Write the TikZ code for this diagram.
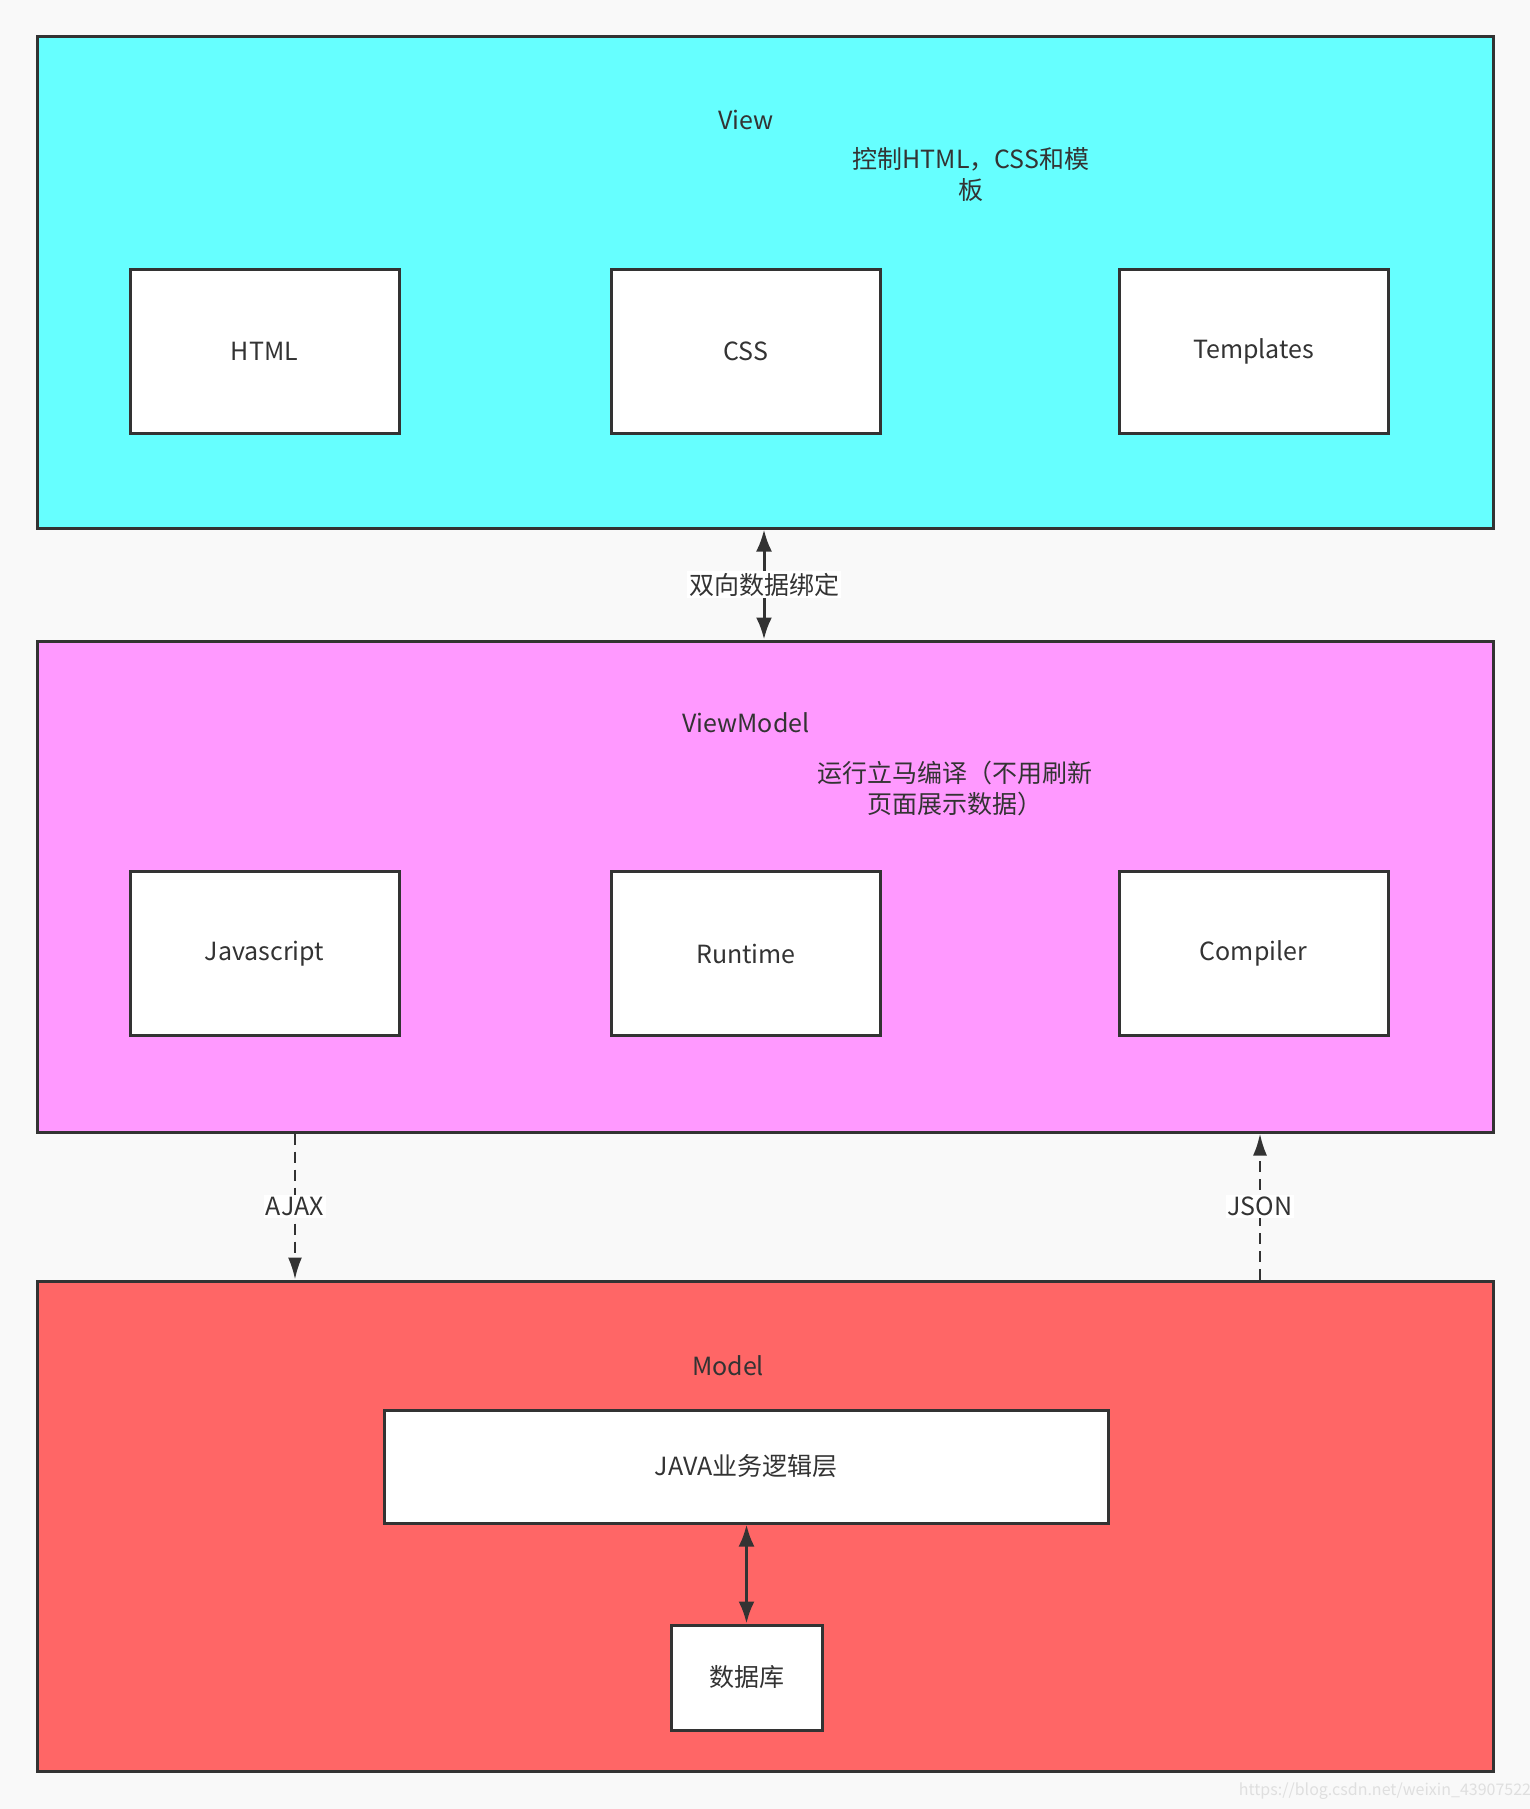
\documentclass[tikz,border=0pt]{standalone}
\usepackage{fontspec}
\setmainfont{Noto Sans CJK SC}
\usepackage{xcolor}
\usetikzlibrary{arrows.meta,positioning,calc}
\definecolor{bgcol}{HTML}{F9F9F9}
\definecolor{linecol}{HTML}{333333}
\definecolor{viewcol}{HTML}{66FFFF}
\definecolor{vmcol}{HTML}{FF99FF}
\definecolor{modelcol}{HTML}{FF6666}

\begin{document}
\begin{tikzpicture}[
			x=1pt, y=-1pt,
			font=\fontsize{25}{31}\selectfont,
			layer/.style={rectangle, draw=linecol, line width=3pt, minimum width=1456pt, minimum height=491pt, inner sep=0pt},
			box/.style={rectangle, draw=linecol, fill=white, line width=3pt, minimum width=269pt, minimum height=164pt, inner sep=0pt, text=linecol},
			title/.style={text=linecol, inner sep=0pt},
			note/.style={text=linecol, align=center, inner sep=0pt},
			lbl/.style={fill=white, text=linecol, inner sep=2pt},
			arrow/.style={{Latex[length=22pt,width=16pt]}-{Latex[length=22pt,width=16pt]}, draw=linecol, line width=3pt},
			dasharrow/.style={-{Latex[length=22pt,width=14pt]}, draw=linecol, line width=2.5pt, dash pattern=on 11pt off 7pt}
			]
			
			% Background
			\fill[bgcol] (0,0) rectangle (1530,1809);
			\useasboundingbox (0,0) rectangle (1530,1809);
			
			% Layers
			\node[layer, fill=viewcol] (view) at (765,282.5) {};
			\node[layer, fill=vmcol] (vm) at (765,886.5) {};
			\node[layer, fill=modelcol, minimum height=490pt] (model) at (765,1526) {};
			
			% View layer
			\node[title] (viewtitle) at (746,120) {View};
			\node[note] (viewnote) at (971,175) {控制HTML，CSS和模\\板};
			\node[box] (html) at (264.5,351) {HTML};
			\node[box] (css) at (746,351) {CSS};
			\node[box] (tpl) at (1253.5,351) {Templates};
			
			% ViewModel layer
			\node[title] (vmtitle) at (746,723) {ViewModel};
			\node[note] (vmnote) at (955,788) {运行立马编译（不用刷新\\页面展示数据）};
			\node[box] (js) at (264.5,953.5) {Javascript};
			\node[box] (runtime) at (746,953.5) {Runtime};
			\node[box] (compiler) at (1253.5,953.5) {Compiler};
			
			% Model layer
			\node[title] (modeltitle) at (728,1366) {Model};
			\node[box, minimum width=724pt, minimum height=113pt] (java) at (746,1466.5) {JAVA业务逻辑层};
			\node[box, minimum width=151pt, minimum height=105pt] (db) at (746.5,1677.5) {数据库};
			
			% Connections
			\coordinate (bind) at (764,0);
			\coordinate (ajax) at (295,0);
			\coordinate (json) at (1260,0);
			\draw[arrow] (view.south -| bind) -- node[lbl] {双向数据绑定} (vm.north -| bind);
			\draw[dasharrow] (vm.south -| ajax) -- node[lbl] {AJAX} (model.north -| ajax);
			\draw[dasharrow] (model.north -| json) -- node[lbl] {JSON} (vm.south -| json);
			\draw[arrow] (java.south -| db) -- (db.north);
			
			% Watermark
			\node[text=gray!25, font=\fontsize{16}{18}\selectfont, inner sep=0pt] (mark) at (1385,1791) {https://blog.csdn.net/weixin\_43907522};
			
		\end{tikzpicture}
\end{document}
